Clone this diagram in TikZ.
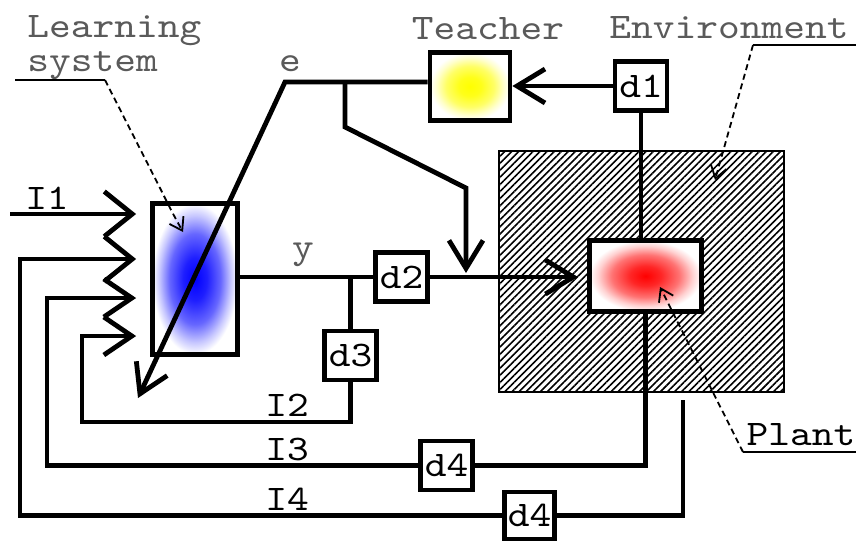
\documentclass[tikz,border=0pt]{standalone}
\usepackage{fontspec}
\setmonofont{lmmono10-regular}[Extension=.otf, FakeStretch=1.15]
\usetikzlibrary{arrows.meta, positioning, patterns.meta}
\definecolor{cgrey}{HTML}{5A5A5A}
\pgfdeclareradialshading{blueglow}{\pgfpoint{0bp}{0bp}}{color(0bp)=(blue); color(7bp)=(blue!88!white); color(15bp)=(blue!60!white); color(21bp)=(blue!22!white); color(25bp)=(white); color(50bp)=(white)}
\pgfdeclareradialshading{yellowglow}{\pgfpoint{0bp}{0bp}}{color(0bp)=(yellow); color(7bp)=(yellow!90!white); color(15bp)=(yellow!60!white); color(21bp)=(yellow!20!white); color(25bp)=(white); color(50bp)=(white)}
\pgfdeclareradialshading{redglow}{\pgfpoint{0bp}{0bp}}{color(0bp)=(red); color(7bp)=(red!85!white); color(15bp)=(red!55!white); color(21bp)=(red!18!white); color(25bp)=(white); color(50bp)=(white)}
\tikzset{
  every picture/.style={font=\ttfamily\fontsize{18pt}{15.5pt}\selectfont, line width=2.4pt},
  glow/.style={draw, line width=2.4pt, inner sep=0pt, shading=#1},
  dbox/.style={draw, fill=white, line width=2.4pt, inner sep=0pt, minimum width=26pt, minimum height=24.5pt},
  hatch/.style={draw, line width=1pt, inner sep=0pt, pattern={Lines[angle=45, distance=2.5pt, line width=0.8pt]}},
  arrow/.style={-{Straight Barb[length=14pt, width=17pt]}},
  inarrow/.style={-{Straight Barb[length=14pt, width=#1]}, shorten >=7pt},
  inarrow/.default=20pt,
  pointer/.style={densely dashed, line width=0.9pt, -{Straight Barb[length=6pt, width=8pt]}},
  underline/.style={line width=0.9pt},
  greytext/.style={text=cgrey, inner sep=0pt},
  blacktext/.style={text=black, inner sep=0pt},
}
\begin{document}
\begin{tikzpicture}[x=0.5pt, y=-0.5pt]
  \useasboundingbox (0,0) rectangle (856,543);
  % blocks
  \node[hatch, minimum width=142.5pt, minimum height=120.5pt] (env) at (641.5,271.5) {};
  \node[glow=blueglow, minimum width=42.5pt, minimum height=75.5pt] (learn) at (195,279) {};
  \node[glow=yellowglow, minimum width=40pt, minimum height=34pt] (teacher) at (470,86.5) {};
  \node[glow=redglow, minimum width=56pt, minimum height=35.5pt] (plant) at (645.5,276) {};
  \node[dbox] (d1) at (641,86) {d1};
  \node[dbox] (d2) at (401.5,277) {d2};
  \node[dbox] (d3) at (350.5,355.5) {d3};
  \node[dbox] (d4a) at (446.5,465.5) {d4};
  \node[dbox, minimum width=25pt, minimum height=23.5pt] (d4b) at (529.5,515.5) {d4};
  % corner points
  \coordinate (eknee) at (285,82);
  \coordinate (etip) at (138,398);
  \coordinate (ebranch) at (345,82);
  \coordinate (ctrl) at (466,273);
  \coordinate (pin) at (578,277);
  \coordinate (i1) at (10,214);
  \coordinate (l2) at (82,336);
  \coordinate (b2) at (82,422);
  \coordinate (l3) at (47,298);
  \coordinate (l4) at (20,259);
  \coordinate (envout) at (683,400);
  % teacher and error
  \draw[arrow] (d1.west) -- (teacher.east |- d1.west);
  \draw (d1.south) -- (d1.south |- plant.north);
  \draw[arrow] (teacher.west |- eknee) -- (eknee) -- (etip);
  \draw[arrow] (ebranch) -- (345,127) -- (466,188) -- (ctrl);
  % output y
  \draw (learn.east |- d2.west) -- (d2.west);
  \draw (d2.west -| d3.north) -- (d3.north);
  \draw[arrow] (d2.east) -- (d2.east -| pin);
  % inputs
  \draw[inarrow=22.5pt] (i1) -- (i1 -| learn.west);
  \draw[inarrow=22.5pt] (d4b.west) -- (d4b.west -| l4) -- (l4) -- (l4 -| learn.west);
  \draw[inarrow=19pt] (d4a.west) -- (d4a.west -| l3) -- (l3) -- (l3 -| learn.west);
  \draw[inarrow=19pt] (d3.south) -- (d3.south |- b2) -- (b2) -- (l2) -- (l2 -| learn.west);
  \draw (plant.south) -- (plant.south |- d4a.east) -- (d4a.east);
  \draw (envout) -- (envout |- d4b.east) -- (d4b.east);
  % texts
  \node[greytext, align=left, anchor=north west, font=\ttfamily\fontsize{18pt}{17pt}\selectfont] (lstext) at (25,13) {Learning\\system};
  \node[greytext] (tchtext) at (488,29) {Teacher};
  \node[greytext] (envtext) at (729,28) {Environment};
  \node[blacktext] (planttext) at (801,435) {Plant};
  \node[greytext] (etext) at (290,64) {e};
  \node[greytext] (ytext) at (303,255) {y};
  \node[blacktext] (i1text) at (47,198) {I1};
  \node[blacktext] (i2text) at (287,405) {I2};
  \node[blacktext] (i3text) at (287,449) {I3};
  \node[blacktext] (i4text) at (287,499) {I4};
  % pointers
  \coordinate (lsul) at (105,80);
  \coordinate (lstip) at (183,232);
  \draw[underline] (15,80) -- (lsul);
  \draw[pointer] (lsul) -- (160,188) .. controls (172,212) .. (lstip);
  \coordinate (envul) at (753,45);
  \coordinate (envtip) at (715,180);
  \draw[underline] (envul) -- (856,45);
  \draw[pointer] (envul) -- (envtip);
  \coordinate (plantul) at (743,452);
  \coordinate (planttip) at (660,287);
  \draw[underline] (plantul) -- (856,452);
  \draw[pointer] (plantul) -- (planttip);
\end{tikzpicture}
\end{document}
